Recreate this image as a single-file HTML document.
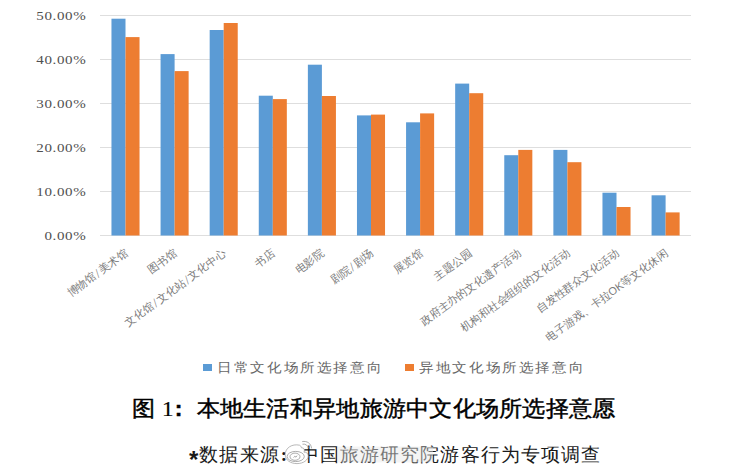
<!DOCTYPE html>
<html><head><meta charset="utf-8"><style>
html,body{margin:0;padding:0;background:#fff;}
body{width:737px;height:473px;position:relative;overflow:hidden;font-family:"Liberation Serif",serif;}
svg{position:absolute;left:0;top:0;}
.yl{font-family:"Liberation Serif",serif;font-size:12px;letter-spacing:0.5px;font-weight:normal;fill:#505050;text-anchor:end;dominant-baseline:central;}
.xl{font-family:"Liberation Serif",serif;font-size:11px;letter-spacing:0px;fill:#7a7a7a;text-anchor:end;dominant-baseline:central;}
.leg{position:absolute;top:360.5px;font-family:"Liberation Sans",sans-serif;font-size:13px;letter-spacing:1.85px;color:#666;white-space:nowrap;line-height:14px;transform:scaleX(1.12);transform-origin:0 0;}
.sq{position:absolute;width:9px;height:7px;top:364px;}
.title{position:absolute;left:132px;top:395px;font-family:"Liberation Sans",sans-serif;font-weight:normal;-webkit-text-stroke:0.45px #000;font-size:23px;letter-spacing:0.26px;color:#000;white-space:nowrap;line-height:26px;transform:scaleY(0.95);transform-origin:0 13px;}
.title .one{font-family:"Liberation Serif",serif;font-weight:normal;-webkit-text-stroke:0.2px #000;}
.title .col{font-weight:bold;}
.title .col{display:inline-block;width:23px;text-indent:1px;}
.src{position:absolute;left:189px;top:444px;font-family:"Liberation Serif",serif;font-size:19px;letter-spacing:1.1px;color:#1a1a1a;white-space:nowrap;line-height:22px;}
.src .ast{font-family:"Liberation Sans",sans-serif;font-weight:bold;font-size:24px;line-height:0;position:relative;top:7px;letter-spacing:1px;-webkit-text-stroke:0;}
.src .col{display:inline-block;width:20px;font-weight:bold;text-indent:1px;letter-spacing:0;}
</style></head><body>
<svg width="737" height="473" viewBox="0 0 737 473">
<line x1="100" x2="691" y1="15.5" y2="15.5" stroke="#dedede" stroke-width="1"/>
<line x1="100" x2="691" y1="59.5" y2="59.5" stroke="#dedede" stroke-width="1"/>
<line x1="100" x2="691" y1="103.5" y2="103.5" stroke="#dedede" stroke-width="1"/>
<line x1="100" x2="691" y1="147.5" y2="147.5" stroke="#dedede" stroke-width="1"/>
<line x1="100" x2="691" y1="191.5" y2="191.5" stroke="#dedede" stroke-width="1"/>
<line x1="100" x2="691" y1="235.5" y2="235.5" stroke="#dedede" stroke-width="1"/>
<rect x="111.47" y="18.7" width="14.03" height="216.80" fill="#5b9bd5"/>
<rect x="125.50" y="37.1" width="14.03" height="198.40" fill="#ed7d31"/>
<rect x="160.57" y="54.1" width="14.03" height="181.40" fill="#5b9bd5"/>
<rect x="174.60" y="71.1" width="14.03" height="164.40" fill="#ed7d31"/>
<rect x="209.67" y="30" width="14.03" height="205.50" fill="#5b9bd5"/>
<rect x="223.70" y="23" width="14.03" height="212.50" fill="#ed7d31"/>
<rect x="258.77" y="95.7" width="14.03" height="139.80" fill="#5b9bd5"/>
<rect x="272.80" y="99.1" width="14.03" height="136.40" fill="#ed7d31"/>
<rect x="307.87" y="64.7" width="14.03" height="170.80" fill="#5b9bd5"/>
<rect x="321.90" y="96" width="14.03" height="139.50" fill="#ed7d31"/>
<rect x="356.97" y="115.4" width="14.03" height="120.10" fill="#5b9bd5"/>
<rect x="371.00" y="114.6" width="14.03" height="120.90" fill="#ed7d31"/>
<rect x="406.07" y="122.3" width="14.03" height="113.20" fill="#5b9bd5"/>
<rect x="420.10" y="113.4" width="14.03" height="122.10" fill="#ed7d31"/>
<rect x="455.17" y="83.6" width="14.03" height="151.90" fill="#5b9bd5"/>
<rect x="469.20" y="93.2" width="14.03" height="142.30" fill="#ed7d31"/>
<rect x="504.27" y="155.2" width="14.03" height="80.30" fill="#5b9bd5"/>
<rect x="518.30" y="149.9" width="14.03" height="85.60" fill="#ed7d31"/>
<rect x="553.37" y="149.9" width="14.03" height="85.60" fill="#5b9bd5"/>
<rect x="567.40" y="162.2" width="14.03" height="73.30" fill="#ed7d31"/>
<rect x="602.47" y="192.7" width="14.03" height="42.80" fill="#5b9bd5"/>
<rect x="616.50" y="207" width="14.03" height="28.50" fill="#ed7d31"/>
<rect x="651.57" y="195.3" width="14.03" height="40.20" fill="#5b9bd5"/>
<rect x="665.60" y="212.4" width="14.03" height="23.10" fill="#ed7d31"/>
<text transform="translate(86.3,16.0) scale(1.25,1)" class="yl">50.00%</text>
<text transform="translate(86.3,60.0) scale(1.25,1)" class="yl">40.00%</text>
<text transform="translate(86.3,104.0) scale(1.25,1)" class="yl">30.00%</text>
<text transform="translate(86.3,148.0) scale(1.25,1)" class="yl">20.00%</text>
<text transform="translate(86.3,192.0) scale(1.25,1)" class="yl">10.00%</text>
<text transform="translate(86.3,236.0) scale(1.25,1)" class="yl">0.00%</text>
<text class="xl" transform="translate(126.50,251.5) rotate(-36) scale(1)">博物馆<tspan dx="1" style="letter-spacing:1.5px;font-size:13px">/</tspan>美术馆</text>
<text class="xl" transform="translate(175.60,251.5) rotate(-36) scale(1)">图书馆</text>
<text class="xl" transform="translate(224.70,251.5) rotate(-36) scale(1)">文化馆<tspan dx="1" style="letter-spacing:1.5px;font-size:13px">/</tspan>文化站<tspan dx="1" style="letter-spacing:1.5px;font-size:13px">/</tspan>文化中心</text>
<text class="xl" transform="translate(273.80,251.5) rotate(-36) scale(1)">书店</text>
<text class="xl" transform="translate(322.90,251.5) rotate(-36) scale(1)">电影院</text>
<text class="xl" transform="translate(372.00,251.5) rotate(-36) scale(1)">剧院<tspan dx="1" style="letter-spacing:1.5px;font-size:13px">/</tspan>剧场</text>
<text class="xl" transform="translate(421.10,251.5) rotate(-36) scale(1)">展览馆</text>
<text class="xl" transform="translate(470.20,251.5) rotate(-36) scale(1)">主题公园</text>
<text class="xl" transform="translate(519.30,251.5) rotate(-36) scale(1)">政府主办的文化遗产活动</text>
<text class="xl" transform="translate(568.40,251.5) rotate(-36) scale(1)">机构和社会组织的文化活动</text>
<text class="xl" transform="translate(617.50,251.5) rotate(-36) scale(1)">自发性群众文化活动</text>
<text class="xl" transform="translate(666.60,251.5) rotate(-36) scale(1)">电子游戏、卡拉<tspan style="font-family:Liberation Sans">OK</tspan>等文化休闲</text>
</svg>
<div class="sq" style="left:203px;background:#5b9bd5"></div>
<div class="leg" style="left:217px">日常文化场所选择意向</div>
<div class="sq" style="left:405px;background:#ed7d31"></div>
<div class="leg" style="left:419px">异地文化场所选择意向</div>
<div class="title">图 <span class="one">1</span><span class="col">:</span>本地生活和异地旅游中文化场所选择意愿</div>
<div class="src"><span class="ast">*</span>数据来源<span class="col">:</span>中国旅游研究院游客行为专项调查</div>
<svg width="737" height="473" style="position:absolute;left:0;top:0">
<rect x="337" y="446.5" width="96" height="16" fill="#e6e6e6" fill-opacity="0.45"/>
<path d="M299.5 445.2 C292 443.5 285.2 448 285.2 454.5 C285.2 460.5 291 463.6 297 463.6 C303.5 463.6 308.2 460 308.2 455.8 C308.2 453 305.6 451.8 304 452.2 C305 449.5 304 447.6 301.5 447.8 C300.8 446 300.5 445.5 299.5 445.2 Z" fill="#fff" stroke="#9a9a9a" stroke-width="0.7"/>
<ellipse cx="295.7" cy="456.5" rx="8.6" ry="5.1" fill="none" stroke="#8a8a8a" stroke-width="0.7"/>
<ellipse cx="295" cy="456.7" rx="5" ry="3.6" fill="none" stroke="#8a8a8a" stroke-width="0.7"/>
<path d="M293.6 457.6 l1.2 -1.4 l1.2 1 l1 -1.6" fill="none" stroke="#777" stroke-width="0.6"/>
<path d="M302.5 444.2 C305.5 443.6 308 445.5 308.4 448.2" fill="none" stroke="#999" stroke-width="0.8"/>
<path d="M302.2 441.6 C307 440.6 311.2 443.6 311.6 448.4" fill="none" stroke="#999" stroke-width="0.8"/>
</svg>
</body></html>
